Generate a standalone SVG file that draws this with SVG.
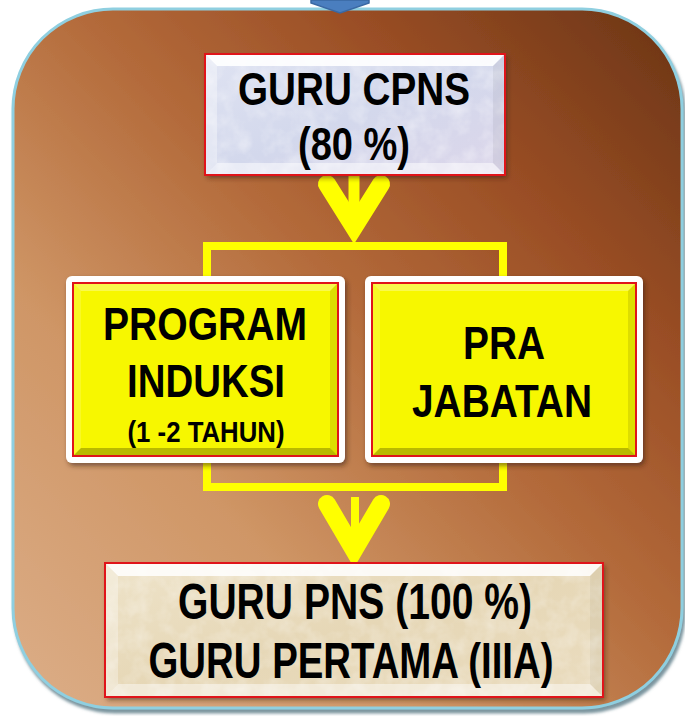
<svg xmlns="http://www.w3.org/2000/svg" width="685" height="716" viewBox="0 0 685 716">
  <defs>
    <linearGradient id="bg" x1="0" y1="1" x2="1" y2="0">
      <stop offset="0" stop-color="#dcae88"/>
      <stop offset="0.3" stop-color="#cf9666"/>
      <stop offset="0.55" stop-color="#b36a3a"/>
      <stop offset="0.75" stop-color="#9a4e25"/>
      <stop offset="1" stop-color="#6a3415"/>
    </linearGradient>
    <linearGradient id="lav" x1="0" y1="0" x2="1" y2="1">
      <stop offset="0" stop-color="#dfe3f2"/>
      <stop offset="0.5" stop-color="#d3d8ec"/>
      <stop offset="1" stop-color="#dcd6ea"/>
    </linearGradient>
    <linearGradient id="parch" x1="0" y1="0" x2="1" y2="1">
      <stop offset="0" stop-color="#eee3c9"/>
      <stop offset="0.5" stop-color="#e6d7b6"/>
      <stop offset="1" stop-color="#eadcbf"/>
    </linearGradient>
    <filter id="shadow" x="-10%" y="-10%" width="125%" height="130%">
      <feDropShadow dx="2" dy="3" stdDeviation="2.5" flood-color="#3a1a08" flood-opacity="0.55"/>
    </filter>
    <filter id="outerShadow" x="-5%" y="-5%" width="110%" height="110%">
      <feDropShadow dx="2" dy="4" stdDeviation="1.5" flood-color="#5a7a86" flood-opacity="0.8"/>
    </filter>
    <filter id="tex" x="0" y="0" width="100%" height="100%">
      <feTurbulence type="fractalNoise" baseFrequency="0.06" numOctaves="3" seed="4" result="n"/>
      <feColorMatrix in="n" type="matrix" values="0 0 0 0 1  0 0 0 0 1  0 0 0 0 1  0 0 0 -1.2 0.75" result="w"/>
      <feComposite in="w" in2="SourceGraphic" operator="in"/>
    </filter>
  </defs>
  <style>
    .txt { font-family: "Liberation Sans", Arial, sans-serif; font-weight: bold; fill: #000; text-anchor: middle; }
    .red { fill: none; stroke: #e0141a; stroke-width: 2; }
    .hl { fill: #ffffff; }
    .dk { fill: #000000; }
    .yel { fill: #f7f700; }
    .con { fill: none; stroke: #ffff00; }
  </style>

  <!-- background panel -->
  <g id="panel">
    <rect x="13" y="9" width="669" height="699" rx="100" ry="100" fill="url(#bg)" stroke="#8fcfe0" stroke-width="3" filter="url(#outerShadow)"/>
    <polygon points="311,0 369,0 369,3 340,13 311,3" fill="#4a7ebf" stroke="#3a68a3" stroke-width="1.5"/>
  </g>

  <!-- connectors -->
  <g id="connectors">
    <line class="con" x1="354" y1="175" x2="354" y2="214" stroke-width="11"/>
    <polyline class="con" points="327,184 354,227 381,184" stroke-width="18" stroke-linecap="round" stroke-linejoin="miter"/>
    <path class="con" d="M207,281 V246 H503 V281" stroke-width="8"/>
    <path class="con" d="M207,462 V487 H503 V462" stroke-width="8"/>
    <line class="con" x1="355" y1="497" x2="355" y2="535" stroke-width="8"/>
    <polyline class="con" points="327,504 354,550 381,504" stroke-width="18" stroke-linecap="round" stroke-linejoin="miter"/>
  </g>

  <!-- GURU CPNS -->
  <g id="guru-cpns">
    <rect x="205" y="54" width="300" height="121" fill="url(#lav)" filter="url(#shadow)"/>
    <rect x="205" y="54" width="300" height="121" fill="#c8d0ea" filter="url(#tex)" opacity="0.6"/>
    <polygon class="hl" points="205,54 505,54 493,66 217,66" opacity="0.9"/>
    <polygon class="hl" points="205,54 217,66 217,163 205,175" opacity="0.35"/>
    <polygon class="dk" points="505,54 505,175 493,163 493,66" opacity="0.05"/>
    <polygon class="hl" points="205,175 505,175 493,163 217,163" opacity="0.5"/>
    <rect class="red" x="205" y="54" width="300" height="121"/>
    <text class="txt" x="354" y="105" font-size="46" textLength="232" lengthAdjust="spacingAndGlyphs">GURU CPNS</text>
    <text class="txt" x="354" y="160" font-size="46" textLength="112" lengthAdjust="spacingAndGlyphs">(80 %)</text>
  </g>

  <!-- PROGRAM INDUKSI -->
  <g id="program-induksi">
    <rect x="66" y="276" width="279" height="187" rx="6" fill="#ffffff" filter="url(#shadow)"/>
    <rect class="yel" x="73" y="283" width="265" height="173"/>
    <polygon class="hl" points="73,283 338,283 330,291 81,291" opacity="0.3"/>
    <polygon class="hl" points="73,283 81,291 81,448 73,456" opacity="0.15"/>
    <polygon class="dk" points="338,283 338,456 330,448 330,291" opacity="0.1"/>
    <polygon class="dk" points="73,456 338,456 330,448 81,448" opacity="0.25"/>
    <rect class="red" x="73" y="283" width="265" height="173"/>
    <text class="txt" x="205" y="340" font-size="46" textLength="204" lengthAdjust="spacingAndGlyphs">PROGRAM</text>
    <text class="txt" x="206" y="397" font-size="46" textLength="158" lengthAdjust="spacingAndGlyphs">INDUKSI</text>
    <text class="txt" x="206" y="442" font-size="30" textLength="157" lengthAdjust="spacingAndGlyphs">(1 -2 TAHUN)</text>
  </g>

  <!-- PRA JABATAN -->
  <g id="pra-jabatan">
    <rect x="365" y="276" width="278" height="187" rx="6" fill="#ffffff" filter="url(#shadow)"/>
    <rect class="yel" x="372" y="283" width="264" height="173"/>
    <polygon class="hl" points="372,283 636,283 628,291 380,291" opacity="0.3"/>
    <polygon class="hl" points="372,283 380,291 380,448 372,456" opacity="0.15"/>
    <polygon class="dk" points="636,283 636,456 628,448 628,291" opacity="0.1"/>
    <polygon class="dk" points="372,456 636,456 628,448 380,448" opacity="0.25"/>
    <rect class="red" x="372" y="283" width="264" height="173"/>
    <text class="txt" x="504" y="359" font-size="46" textLength="82" lengthAdjust="spacingAndGlyphs">PRA</text>
    <text class="txt" x="502" y="417" font-size="46" textLength="180" lengthAdjust="spacingAndGlyphs">JABATAN</text>
  </g>

  <!-- GURU PNS -->
  <g id="guru-pns">
    <rect x="105" y="563" width="498" height="134" fill="url(#parch)" filter="url(#shadow)"/>
    <rect x="105" y="563" width="498" height="134" fill="#e0cfa8" filter="url(#tex)" opacity="0.5"/>
    <polygon class="hl" points="105,563 603,563 590,576 118,576" opacity="0.85"/>
    <polygon class="hl" points="105,563 118,576 118,684 105,697" opacity="0.3"/>
    <polygon class="dk" points="603,563 603,697 590,684 590,576" opacity="0.04"/>
    <polygon class="hl" points="105,697 603,697 590,684 118,684" opacity="0.45"/>
    <rect class="red" x="105" y="563" width="498" height="134"/>
    <text class="txt" x="355" y="619" font-size="50" textLength="354" lengthAdjust="spacingAndGlyphs">GURU PNS (100 %)</text>
    <text class="txt" x="351" y="678" font-size="50" textLength="405" lengthAdjust="spacingAndGlyphs">GURU PERTAMA (IIIA)</text>
  </g>
</svg>
